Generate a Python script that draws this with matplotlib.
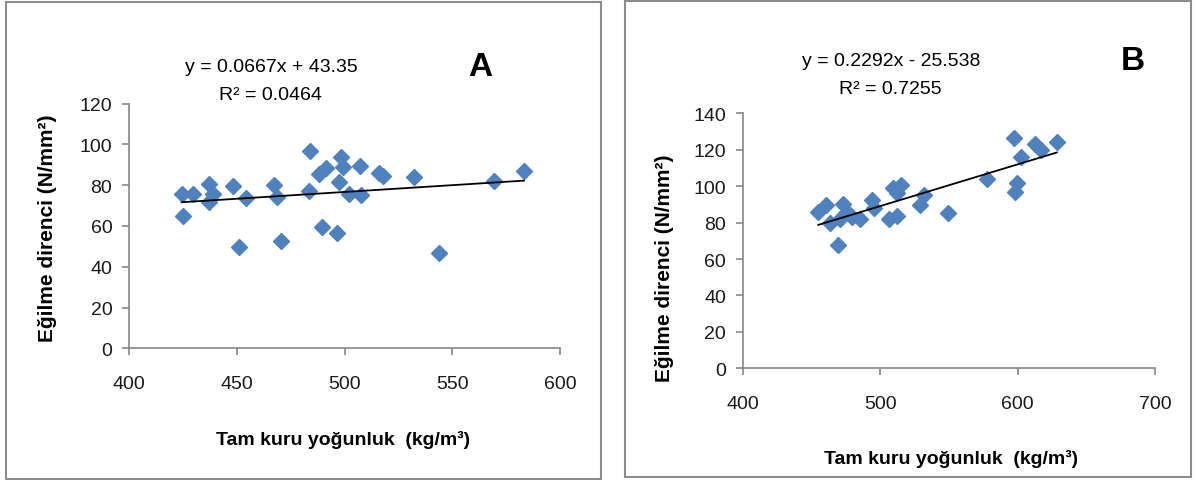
import numpy as np
import matplotlib.pyplot as plt
from matplotlib.patches import Rectangle

plt.rcParams['font.family'] = ['Liberation Sans', 'DejaVu Sans']

# Panel A data: oven-dry density vs bending strength
density_a = [424.4, 429.8, 425.2, 437.1, 439.1, 437.1, 448.4, 454.3, 451.0, 467.3,
             468.8, 470.4, 484.0, 483.7, 488.3, 491.3, 489.4, 498.4, 499.2, 497.6,
             496.7, 502.2, 507.5, 507.2, 516.2, 518.0, 532.4, 544.0, 569.4, 583.3]
strength_a = [75.7, 75.7, 65.1, 80.6, 75.7, 71.6, 79.5, 73.6, 49.6, 80.3,
              74.4, 52.8, 96.7, 77.3, 85.5, 88.3, 59.4, 94.0, 89.1, 81.7,
              56.4, 75.7, 75.2, 89.6, 85.9, 84.4, 84.2, 46.8, 82.2, 87.1]
slope_a, icept_a, r2_a = 0.0667, 43.35, 0.0464

# Panel B data
density_b = [455.0, 460.6, 463.5, 469.5, 470.8, 473.2, 475.6, 479.3, 485.3, 493.8,
             495.5, 506.6, 509.1, 512.0, 512.4, 514.9, 528.9, 531.8, 549.5, 577.5,
             597.3, 598.0, 599.7, 602.2, 612.6, 616.7, 628.4]
strength_b = [85.8, 89.5, 80.0, 67.6, 82.2, 90.0, 85.8, 83.3, 81.8, 92.4,
              88.2, 82.2, 99.1, 96.0, 83.6, 100.9, 89.5, 94.9, 85.5, 104.2,
              126.4, 96.7, 101.5, 116.0, 123.3, 119.6, 124.2]
slope_b, icept_b, r2_b = 0.2292, -25.538, 0.7255

xticks_a = [400, 450, 500, 550, 600]
yticks_a = [0, 20, 40, 60, 80, 100, 120]
xticks_b = [400, 500, 600, 700]
yticks_b = [0, 20, 40, 60, 80, 100, 120, 140]

W, H = 1198, 481
fig = plt.figure(figsize=(W / 100, H / 100), dpi=100)

def fx(px):
    return px / W

def fy(py):
    return 1 - py / H

# panel frames
for x0, y0, x1, y1 in [(6, 3, 601, 480), (625, 2, 1191, 478)]:
    fig.patches.append(Rectangle((fx(x0), fy(y1)), fx(x1 - x0), (y1 - y0) / H,
                                 transform=fig.transFigure, fill=False,
                                 edgecolor='#8c8c8c', lw=1.5))

def style_axes(ax, xticks, yticks):
    for s in ['top', 'right']:
        ax.spines[s].set_visible(False)
    for s in ['left', 'bottom']:
        ax.spines[s].set_color('#868686')
        ax.spines[s].set_linewidth(1.2)
    ax.set_xticks(xticks)
    ax.set_yticks(yticks)
    ax.set_xlim(xticks[0], xticks[-1])
    ax.set_ylim(yticks[0], yticks[-1])
    ax.tick_params(direction='out', length=5, width=1.2, color='#868686',
                   labelsize=14, labelcolor='#1a1a1a', pad=14)
    ax.tick_params(axis='y', pad=7)
    ax.patch.set_alpha(0)

# Panel A
ax1 = fig.add_axes([fx(129), fy(349.3), fx(560 - 129), (349.3 - 104.7) / H])
ax1.plot(density_a, strength_a, 'D', color='#4f81bd', ms=8.5, mec='#4f81bd', clip_on=False, zorder=3)
xa = np.array([min(density_a), max(density_a)])
ax1.plot(xa, slope_a * xa + icept_a, color='black', lw=1.3, zorder=4)
style_axes(ax1, xticks_a, yticks_a)

# Panel B
ax2 = fig.add_axes([fx(742.7), fy(369.3), fx(1155.3 - 742.7), (369.3 - 114.3) / H])
ax2.plot(density_b, strength_b, 'D', color='#4f81bd', ms=8.5, mec='#4f81bd', clip_on=False, zorder=3)
xb = np.array([min(density_b), max(density_b)])
ax2.plot(xb, slope_b * xb + icept_b, color='black', lw=1.3, zorder=4)
style_axes(ax2, xticks_b, yticks_b)

# equations and panel letters
fig.text(fx(271), fy(67), f'y = {slope_a}x + {icept_a}', ha='center', va='center', fontsize=14)
fig.text(fx(270), fy(95), f'R² = {r2_a}', ha='center', va='center', fontsize=14)
fig.text(fx(480), fy(68), 'A', ha='center', va='center', fontsize=24, fontweight='bold')

fig.text(fx(891), fy(62), f'y = {slope_b}x - {abs(icept_b)}', ha='center', va='center', fontsize=14)
fig.text(fx(890), fy(90), f'R² = {r2_b}', ha='center', va='center', fontsize=14)
fig.text(fx(1133), fy(62), 'B', ha='center', va='center', fontsize=24, fontweight='bold')

# axis titles
xlabel = 'Tam kuru yoğunluk  (kg/m³)'
ylabel = 'Eğilme direnci (N/mm²)'
fig.text(fx(343), fy(440), xlabel, ha='center', va='center', fontsize=14, fontweight='bold')
fig.text(fx(48), fy(228), ylabel, ha='center', va='center', fontsize=15, fontweight='bold', rotation=90)
fig.text(fx(951), fy(459), xlabel, ha='center', va='center', fontsize=14, fontweight='bold')
fig.text(fx(665), fy(268), ylabel, ha='center', va='center', fontsize=15, fontweight='bold', rotation=90)

fig.savefig('out.png', dpi=100, facecolor='white')
